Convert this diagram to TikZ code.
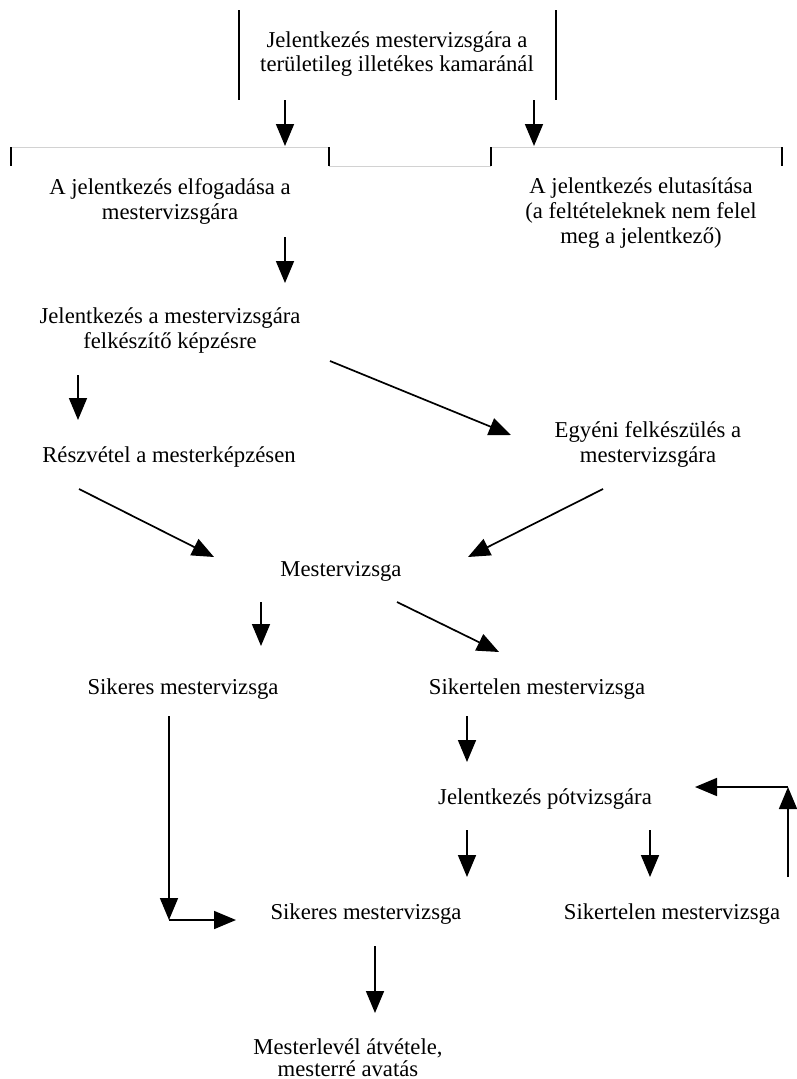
\documentclass[tikz,border=0pt]{standalone}
\usepackage{fontspec}
\setmainfont{Liberation Serif}
\usepackage{tikz}
\usetikzlibrary{arrows.meta}

\begin{document}
\begin{tikzpicture}[x=1pt,y=-1pt,
        lbl/.style={align=center, anchor=base, inner sep=0pt, font=\fontsize{22.7}{25}\selectfont},
        arr/.style={line width=1.7pt, -{Triangle[length=22pt,width=18pt]}},
        lin/.style={line width=1.7pt},
        faint/.style={line width=1pt, gray!35}]
                \useasboundingbox (0,0) rectangle (797,1079);
                % base = last line
                \node[lbl, font=\fontsize{22.7}{24}\selectfont] (top) at (397,71) {Jelentkezés mestervizsgára a\\területileg illetékes kamaránál};
                \node[lbl] (acc) at (170,219) {A jelentkezés elfogadása a\\mestervizsgára};
                \node[lbl] (rej) at (641,243) {A jelentkezés elutasítása\\(a feltételeknek nem felel\\meg a jelentkező)};
                \node[lbl] (kep) at (170,348) {Jelentkezés a mestervizsgára\\felkészítő képzésre};
                \node[lbl] (resz) at (169,462) {Részvétel a mesterképzésen};
                \node[lbl] (egy) at (648,462) {Egyéni felkészülés a\\mestervizsgára};
                \node[lbl] (mv) at (341,576) {Mestervizsga};
                \node[lbl] (sik1) at (183,694) {Sikeres mestervizsga};
                \node[lbl] (sikt1) at (537,694) {Sikertelen mestervizsga};
                \node[lbl] (pot) at (545,804) {Jelentkezés pótvizsgára};
                \node[lbl] (sik2) at (366,919) {Sikeres mestervizsga};
                \node[lbl] (sikt2) at (672,919) {Sikertelen mestervizsga};
                \node[lbl, font=\fontsize{22.7}{22}\selectfont] (ml) at (348,1076) {Mesterlevél átvétele,\\mesterré avatás};
                % box sides
                \draw[lin] ([shift={(-158,-61)}]top.base) -- ([shift={(-158,29)}]top.base);
                \draw[lin] ([shift={(159,-61)}]top.base) -- ([shift={(159,29)}]top.base);
                \draw[faint] ([shift={(-159,-72)}]acc.base) -- ([shift={(159,-72)}]acc.base);
                \draw[faint] ([shift={(159,-53)}]acc.base) -- ([shift={(-150,-77)}]rej.base);
                \draw[faint] ([shift={(-150,-96)}]rej.base) -- ([shift={(141,-96)}]rej.base);
                \draw[lin] ([shift={(-159,-72)}]acc.base) -- ([shift={(-159,-53)}]acc.base);
                \draw[lin] ([shift={(159,-72)}]acc.base) -- ([shift={(159,-53)}]acc.base);
                \draw[lin] ([shift={(-150,-96)}]rej.base) -- ([shift={(-150,-77)}]rej.base);
                \draw[lin] ([shift={(141,-96)}]rej.base) -- ([shift={(141,-77)}]rej.base);
                % arrows
                \draw[arr] ([shift={(-112,29)}]top.base) -- ([shift={(115,-73)}]acc.base);
                \draw[arr] ([shift={(137,29)}]top.base) -- ([shift={(-107,-97)}]rej.base);
                \draw[arr] ([shift={(115,18)}]acc.base) -- ([shift={(115,-65)}]kep.base);
                \draw[arr] ([shift={(-92,27)}]kep.base) -- ([shift={(-91,-42)}]resz.base);
                \draw[arr] ([shift={(160,13)}]kep.base) -- ([shift={(-137,-27)}]egy.base);
                \draw[arr] ([shift={(-90,27)}]resz.base) -- ([shift={(-127,-19)}]mv.base);
                \draw[arr] ([shift={(-45,27)}]egy.base) -- ([shift={(127,-19)}]mv.base);
                \draw[arr] ([shift={(-80,26)}]mv.base) -- ([shift={(78,-48)}]sik1.base);
                \draw[arr] ([shift={(56,26)}]mv.base) -- ([shift={(-38,-42)}]sikt1.base);
                \coordinate (c1) at (169,920);
                \draw[arr] ([shift={(-14,22)}]sik1.base) -- (c1);
                \draw[arr] (c1) -- ([shift={(-130,1)}]sik2.base);
                \draw[arr] ([shift={(-70,22)}]sikt1.base) -- ([shift={(-78,-42)}]pot.base);
                \draw[arr] ([shift={(-78,26)}]pot.base) -- ([shift={(101,-42)}]sik2.base);
                \draw[arr] ([shift={(105,26)}]pot.base) -- ([shift={(-22,-42)}]sikt2.base);
                \coordinate (c2) at (788,787);
                \draw[arr] ([shift={(116,-42)}]sikt2.base) -- (c2);
                \draw[arr] (c2) -- ([shift={(150,-17)}]pot.base);
                \draw[arr] ([shift={(9,27)}]sik2.base) -- ([shift={(27,-63)}]ml.base);
\end{tikzpicture}
\end{document}
